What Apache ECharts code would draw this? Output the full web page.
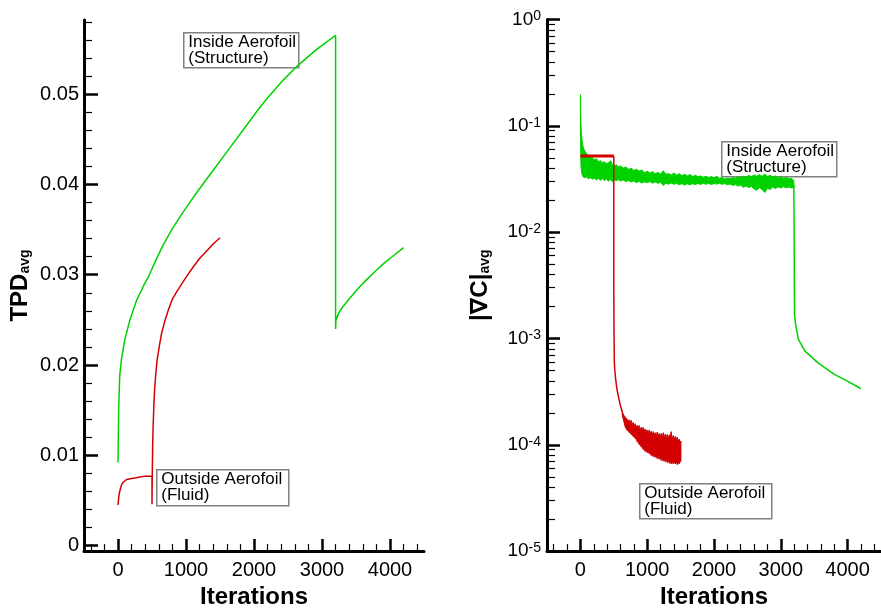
<!DOCTYPE html>
<html><head><meta charset="utf-8">
<script src="https://cdn.jsdelivr.net/npm/echarts@6/dist/echarts.min.js"></script>
<style>html,body{margin:0;padding:0;background:#fff}#c{width:881px;height:614px}</style>
</head><body><div id="c"></div>
<script>
// ---------------- data ----------------
const xTicks = [0, 1000, 2000, 3000, 4000];
const tpdTicks = [0, 0.01, 0.02, 0.03, 0.04, 0.05];
const gradTicks = [1e-5, 1e-4, 1e-3, 1e-2, 1e-1, 1];

// Left panel: TPD_avg, Inside Aerofoil (Structure)
const tpdInsideIter = [0, 10, 25, 50, 100, 175, 270, 370, 450, 550, 665, 800, 911, 1000, 1158, 1403, 1650, 1897, 2093, 2192, 2437, 2635, 2930, 3200,
  3200, 3205, 3250, 3300, 3400, 3520, 3650, 3800, 3900, 4050, 4200];
const tpdInsideVal = [0.0092, 0.0151, 0.0188, 0.0206, 0.0228, 0.0250, 0.0271, 0.0287, 0.0298, 0.0315, 0.0333, 0.0351, 0.0364, 0.0374, 0.0391, 0.0416, 0.0441, 0.0466, 0.0486, 0.0495, 0.0516, 0.0531, 0.0550, 0.0565,
  0.0240, 0.0250, 0.0258, 0.0264, 0.0273, 0.0284, 0.0294, 0.0305, 0.0312, 0.0321, 0.0330];
// Left panel: Outside Aerofoil (Fluid)
const tpdOutsideIter = [0, 10, 25, 50, 75, 120, 175, 250, 320, 400, 500,
  500, 505, 510, 517, 530, 542, 560, 576, 610, 641, 690, 740, 800, 862, 930, 1000, 1100, 1200, 1300, 1400, 1500];
const tpdOutsideVal = [0.0045, 0.0053, 0.0060, 0.0067, 0.0070, 0.0073, 0.0074, 0.0075, 0.0076, 0.0077, 0.0077,
  0.0046, 0.0085, 0.0112, 0.0133, 0.0160, 0.0177, 0.0194, 0.0206, 0.0222, 0.0235, 0.0249, 0.0261, 0.0273, 0.0281, 0.0289, 0.0297, 0.0308, 0.0318, 0.0326, 0.0334, 0.0341];

// Right panel: |grad C|_avg, noisy bands given as upper / lower envelopes [iteration, value]
const gradInsideUpper = [[0,0.197],[2,0.16],[4,0.13],[7,0.11],[10,0.10],[15,0.088],[20,0.079],[30,0.069],[40,0.064],[60,0.059],[90,0.055],[120,0.053],[150,0.051],[180,0.050],[210,0.048],[240,0.049],[270,0.046],[300,0.047],[330,0.045],[360,0.046],[390,0.044],[420,0.045],[450,0.047],[480,0.043],[510,0.042],[540,0.043],[570,0.041],[600,0.042],[640,0.040],[680,0.041],[720,0.039],[760,0.040],[800,0.038],[840,0.039],[880,0.0375],[920,0.0385],[960,0.036],[1000,0.0375],[1040,0.036],[1080,0.037],[1120,0.0355],[1160,0.0365],[1200,0.035],[1240,0.0378],[1280,0.035],[1320,0.0355],[1360,0.0345],[1400,0.036],[1440,0.0345],[1480,0.0355],[1520,0.034],[1560,0.035],[1600,0.0338],[1640,0.0348],[1680,0.0333],[1720,0.0343],[1760,0.0332],[1800,0.0338],[1840,0.0328],[1880,0.0336],[1920,0.0326],[1960,0.0333],[2000,0.0325],[2040,0.0335],[2080,0.0322],[2120,0.0326],[2160,0.0316],[2200,0.0322],[2240,0.0318],[2280,0.0326],[2320,0.0322],[2360,0.0332],[2400,0.0325],[2440,0.0335],[2480,0.0328],[2520,0.0342],[2560,0.0332],[2600,0.0345],[2640,0.0336],[2680,0.0348],[2720,0.0334],[2760,0.0352],[2800,0.0333],[2840,0.0342],[2880,0.0331],[2920,0.0338],[2960,0.0322],[3000,0.0332],[3040,0.032],[3080,0.0328],[3120,0.0318],[3160,0.0322],[3195,0.0305]];
const gradInsideLower = [[0,0.19],[2,0.09],[4,0.06],[7,0.046],[10,0.041],[15,0.038],[20,0.036],[30,0.034],[40,0.0332],[60,0.0325],[90,0.033],[120,0.0318],[150,0.0325],[180,0.0315],[210,0.0322],[240,0.031],[270,0.032],[300,0.0308],[330,0.0318],[360,0.0306],[390,0.0315],[420,0.0302],[450,0.0312],[480,0.0298],[510,0.031],[540,0.0305],[570,0.0312],[600,0.0302],[640,0.031],[680,0.0298],[720,0.0306],[760,0.0296],[800,0.0303],[840,0.0292],[880,0.03],[920,0.029],[960,0.0298],[1000,0.0292],[1040,0.0299],[1080,0.0289],[1120,0.0297],[1160,0.0288],[1200,0.0294],[1240,0.0275],[1280,0.0289],[1320,0.0282],[1360,0.029],[1400,0.0282],[1440,0.0288],[1480,0.0279],[1520,0.0286],[1560,0.0278],[1600,0.0285],[1640,0.0279],[1680,0.0286],[1720,0.028],[1760,0.0287],[1800,0.0281],[1840,0.0288],[1880,0.0282],[1920,0.0287],[1960,0.0281],[2000,0.0286],[2040,0.0283],[2080,0.0288],[2120,0.0282],[2160,0.0286],[2200,0.0279],[2240,0.0284],[2280,0.0275],[2320,0.028],[2360,0.0271],[2400,0.0276],[2440,0.0264],[2480,0.0272],[2520,0.0262],[2560,0.027],[2600,0.0255],[2640,0.0248],[2680,0.0262],[2720,0.0252],[2760,0.0236],[2800,0.0258],[2840,0.0252],[2880,0.0266],[2920,0.0258],[2960,0.0267],[3000,0.026],[3040,0.0268],[3080,0.0261],[3120,0.0266],[3160,0.026],[3195,0.0262]];
const gradInsideTailIter = [3195, 3200, 3203, 3206, 3226, 3264, 3362, 3557, 3802, 3997, 4183, 4200];
const gradInsideTailVal = [0.028, 0.010, 0.003, 0.00165, 0.0013, 0.00098, 0.00076, 0.00059, 0.00046, 0.000397, 0.000342, 0.000338];

const gradOutsideFlatIter = [0, 500];
const gradOutsideFlatVal = [0.052, 0.052];
const gradOutsideDropIter = [500, 500, 503, 508, 515, 528, 545, 566, 595, 625];
const gradOutsideDropVal = [0.052, 0.003, 0.0012, 0.0006, 0.0005, 0.000415, 0.00034, 0.00029, 0.00024, 0.000205];
const gradOutsideUpper = [[625,0.00021],[640,0.000195],[655,0.000188],[670,0.000182],[685,0.000178],[700,0.000175],[715,0.000165],[730,0.000172],[745,0.000162],[760,0.00017],[775,0.000155],[790,0.000162],[805,0.00015],[820,0.000158],[835,0.000146],[850,0.000152],[865,0.000142],[880,0.000152],[895,0.000138],[910,0.000146],[925,0.000136],[940,0.000146],[955,0.000134],[970,0.000141],[985,0.00013],[1000,0.000138],[1015,0.000128],[1030,0.000138],[1045,0.000126],[1060,0.000134],[1075,0.000124],[1090,0.000133],[1105,0.000122],[1120,0.00013],[1135,0.00012],[1150,0.000132],[1165,0.00012],[1180,0.000128],[1195,0.000118],[1210,0.000128],[1225,0.000117],[1240,0.00013],[1255,0.000116],[1270,0.000126],[1285,0.000115],[1300,0.000125],[1315,0.000114],[1330,0.000124],[1345,0.000118],[1358,0.000133],[1372,0.000114],[1390,0.000122],[1405,0.000112],[1420,0.00012],[1435,0.00011],[1450,0.000118],[1465,0.000108],[1480,0.000113],[1495,0.000104],[1505,0.000108]];
const gradOutsideLower = [[625,0.000195],[640,0.000175],[655,0.000162],[670,0.000148],[685,0.000142],[700,0.000136],[715,0.000138],[730,0.00013],[745,0.000132],[760,0.000124],[775,0.000127],[790,0.000119],[805,0.000121],[820,0.000114],[835,0.000116],[850,0.000106],[865,0.000108],[880,0.0001],[895,0.000102],[910,0.000095],[925,0.000097],[940,0.00009],[955,0.000093],[970,0.000086],[985,0.00009],[1000,0.000084],[1015,0.000088],[1030,0.000082],[1045,0.000085],[1060,0.000079],[1075,0.000082],[1090,0.000077],[1105,0.000081],[1120,0.000076],[1135,0.000079],[1150,0.000074],[1165,0.000078],[1180,0.000073],[1195,0.000077],[1210,0.000071],[1225,0.000075],[1240,0.00007],[1255,0.000074],[1270,0.000069],[1285,0.000073],[1300,0.000068],[1315,0.000072],[1330,0.000067],[1345,0.000071],[1358,0.000066],[1372,0.00007],[1390,0.000066],[1405,0.00007],[1420,0.000066],[1435,0.000069],[1450,0.000065],[1465,0.000069],[1480,0.000066],[1495,0.00007],[1505,0.00007]];

// ---------------- helpers ----------------
const zip = (xs, ys) => xs.map((x, i) => [x, ys[i]]);
const FONT = '"Liberation Sans", Arial, "DejaVu Sans", sans-serif';
const GREEN = '#00d200';
const RED = '#d20000';

const xMinor = [];
for (let v = -400; v <= 4400; v += 200) if (v % 1000 !== 0) xMinor.push(v);
const tpdMinor = [];
for (let i = 1; i <= 29; i++) if (i % 5 !== 0) tpdMinor.push(+(i * 0.002).toFixed(4));
const gradMinor = [];
for (let e = -5; e <= -1; e++) for (let m = 2; m <= 9; m++) gradMinor.push(+(m * Math.pow(10, e)).toPrecision(3));

const gridL = {left: 84, top: 20, width: 340, height: 537};
const gridR = {left: 547, top: 19.5, width: 340, height: 540.5};

function mainX(gi, gap) {
  return {
    type: 'value', gridIndex: gi, min: -500, max: 4500, position: 'bottom',
    name: 'Iterations', nameLocation: 'middle', nameGap: gap,
    nameTextStyle: {fontSize: 24, fontWeight: 'bold', color: '#000', fontFamily: FONT},
    axisLine: {show: true, onZero: false, lineStyle: {color: '#000', width: 3}},
    axisTick: {show: true, inside: true, length: 12, customValues: xTicks, lineStyle: {color: '#000', width: 2.5}},
    axisLabel: {show: true, customValues: xTicks, fontSize: 20, color: '#000', fontFamily: FONT, margin: 9,
      formatter: v => String(Math.round(v))},
    splitLine: {show: false}
  };
}
function minorX(gi) {
  return {
    type: 'value', gridIndex: gi, min: -500, max: 4500, position: 'bottom',
    axisLine: {show: false, onZero: false},
    axisTick: {show: true, inside: true, length: 7, customValues: xMinor, lineStyle: {color: '#000', width: 1.2}},
    axisLabel: {show: false}, splitLine: {show: false}
  };
}
function polygonSeries(upper, lower, color) {
  return {
    type: 'custom', xAxisIndex: 2, yAxisIndex: 2, data: upper,
    renderItem: (params, api) => {
      if (params.dataIndex !== 0) return null;
      const up = upper.map(p => api.coord(p));
      const lo = lower.map(p => api.coord(p)).reverse();
      return {type: 'polygon', shape: {points: up.concat(lo)}, style: {fill: color, stroke: color, lineWidth: 1}};
    }
  };
}
function lineSeries(xi, data, color, width) {
  return {type: 'line', xAxisIndex: xi, yAxisIndex: xi, data: data, showSymbol: false, symbol: 'none',
    lineStyle: {color: color, width: width}};
}

const nameRich = {
  m: {fontSize: 24, fontWeight: 'bold', lineHeight: 24, fontFamily: FONT, color: '#000'},
  s: {fontSize: 14, fontWeight: 'bold', lineHeight: 4, verticalAlign: 'bottom', fontFamily: FONT, color: '#000'}
};

const option = {
  animation: false,
  backgroundColor: '#fff',
  textStyle: {fontFamily: FONT},
  grid: [gridL, gridR],
  xAxis: [mainX(0, 21), minorX(0), mainX(1, 18), minorX(1)],
  yAxis: [
    {
      type: 'value', gridIndex: 0, min: -0.0006, max: 0.0582, position: 'left',
      name: '{m|TPD}{s|avg}', nameLocation: 'middle', nameGap: 52,
      nameTextStyle: {color: '#000', rich: nameRich},
      axisLine: {show: true, onZero: false, lineStyle: {color: '#000', width: 3}},
      axisTick: {show: true, inside: true, length: 14, customValues: tpdTicks, lineStyle: {color: '#000', width: 2.5}},
      axisLabel: {show: true, customValues: tpdTicks, fontSize: 20, color: '#000', fontFamily: FONT, margin: 5,
        formatter: v => (Math.abs(v) < 1e-9 ? '0' : v.toFixed(2))},
      splitLine: {show: false}
    },
    {
      type: 'value', gridIndex: 0, min: -0.0006, max: 0.0582, position: 'left',
      axisLine: {show: false, onZero: false},
      axisTick: {show: true, inside: true, length: 8, customValues: tpdMinor, lineStyle: {color: '#000', width: 1.2}},
      axisLabel: {show: false}, splitLine: {show: false}
    },
    {
      type: 'log', logBase: 10, gridIndex: 1, min: 1e-5, max: 1, position: 'left',
      name: '{m||∇C|}{s|avg}', nameLocation: 'middle', nameGap: 55,
      nameTextStyle: {color: '#000', rich: nameRich},
      axisLine: {show: true, onZero: false, lineStyle: {color: '#000', width: 3}},
      axisTick: {show: true, inside: true, length: 13, customValues: gradTicks, lineStyle: {color: '#000', width: 2.5}},
      axisLabel: {show: true, customValues: gradTicks, color: '#000', fontFamily: FONT, margin: 6,
        formatter: v => '{b|10}{e|' + Math.round(Math.log10(v)) + '}',
        rich: {
          b: {fontSize: 19, lineHeight: 20, fontFamily: FONT, color: '#000'},
          e: {fontSize: 14, lineHeight: 8, verticalAlign: 'top', fontFamily: FONT, color: '#000'}
        }},
      splitLine: {show: false}
    },
    {
      type: 'log', logBase: 10, gridIndex: 1, min: 1e-5, max: 1, position: 'left',
      axisLine: {show: false, onZero: false},
      axisTick: {show: true, inside: true, length: 8, customValues: gradMinor, lineStyle: {color: '#000', width: 1.2}},
      axisLabel: {show: false}, splitLine: {show: false}
    }
  ],
  series: [
    lineSeries(0, zip(tpdInsideIter, tpdInsideVal), GREEN, 1.5),
    lineSeries(0, zip(tpdOutsideIter, tpdOutsideVal), RED, 1.5),
    polygonSeries(gradInsideUpper, gradInsideLower, GREEN),
    lineSeries(2, zip(gradInsideTailIter, gradInsideTailVal), GREEN, 1.5),
    lineSeries(2, zip(gradOutsideFlatIter, gradOutsideFlatVal), RED, 3),
    lineSeries(2, zip(gradOutsideDropIter, gradOutsideDropVal), RED, 1.5),
    polygonSeries(gradOutsideUpper, gradOutsideLower, RED)
  ]
};

function box(x, y, w, h, text) {
  return {
    type: 'group', left: x, top: y, children: [
      {type: 'rect', shape: {x: 0, y: 0, width: w, height: h}, style: {fill: '#fff', stroke: '#808080', lineWidth: 1.5}},
      {type: 'text', x: 4.5, y: 2, style: {text: text, fontSize: 17, fontFamily: FONT, fill: '#000', lineHeight: 15.5, verticalAlign: 'top', align: 'left'}}
    ]
  };
}
option.graphic = [
  box(183, 32, 115, 35, 'Inside Aerofoil\n(Structure)'),
  box(156, 469, 132, 36, 'Outside Aerofoil\n(Fluid)'),
  box(721, 141, 115, 35, 'Inside Aerofoil\n(Structure)'),
  box(639, 483, 132, 35, 'Outside Aerofoil\n(Fluid)')
];

const chart = echarts.init(document.getElementById('c'), null, {renderer: 'canvas'});
chart.setOption(option);
</script>
</body></html>
